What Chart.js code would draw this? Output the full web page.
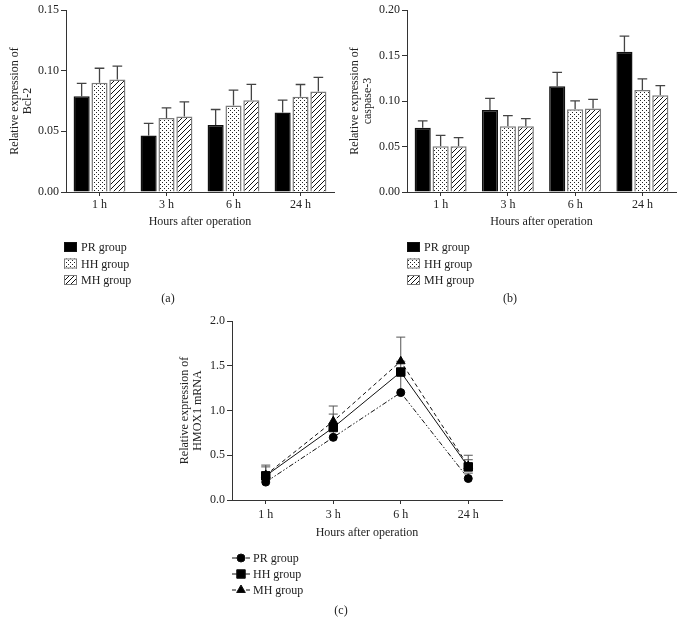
<!DOCTYPE html>
<html>
<head>
<meta charset="utf-8">
<script src="https://cdn.jsdelivr.net/npm/chart.js@4.4.0/dist/chart.umd.min.js"></script>
<style>
  html, body { margin: 0; padding: 0; background: #fff; }
  body { width: 686px; height: 634px; position: relative; overflow: hidden; }
  canvas { position: absolute; }
  #chartA { left: 0; top: 0; }
  #chartB { left: 340px; top: 0; }
  #chartC { left: 170px; top: 300px; }
</style>
</head>
<body>
<canvas id="chartA" width="340" height="312"></canvas>
<canvas id="chartB" width="346" height="312"></canvas>
<canvas id="chartC" width="345" height="334"></canvas>
<script>
// data
const hours = ["1 h", "3 h", "6 h", "24 h"];
const groupNames = ["PR group", "HH group", "MH group"];

// (a) Bcl-2
const bclPR = [0.079, 0.0465, 0.0553, 0.0655];
const bclHH = [0.090, 0.061, 0.0713, 0.0784];
const bclMH = [0.0928, 0.0622, 0.0757, 0.0829];
const bclPRerr = [0.0105, 0.0100, 0.0127, 0.0102];
const bclHHerr = [0.0120, 0.0084, 0.0127, 0.0102];
const bclMHerr = [0.0110, 0.0120, 0.0130, 0.0115];
const bclTicks = [0, 0.05, 0.10, 0.15];

// (b) caspase-3
const casPR = [0.0705, 0.090, 0.1163, 0.1541];
const casHH = [0.0503, 0.0723, 0.091, 0.112];
const casMH = [0.0503, 0.0723, 0.0917, 0.1064];
const casPRerr = [0.0077, 0.0128, 0.0151, 0.0173];
const casHHerr = [0.0120, 0.0117, 0.0092, 0.0124];
const casMHerr = [0.0095, 0.0084, 0.0100, 0.0106];
const casTicks = [0, 0.05, 0.10, 0.15, 0.20];

// (c) HMOX1 mRNA
const hoPR = [0.20, 0.70, 1.20, 0.24];
const hoHH = [0.27, 0.81, 1.43, 0.37];
const hoMH = [0.28, 0.88, 1.55, 0.38];
const hoPRerr = [0.04, 0.09, 0.21, 0.06];
const hoHHerr = [0.10, 0.15, 0.12, 0.08];
const hoMHerr = [0.11, 0.17, 0.27, 0.12];
const hoTicks = [0, 0.5, 1.0, 1.5, 2.0];

Chart.defaults.font.family = "'Liberation Serif', 'Times New Roman', serif";
Chart.defaults.font.size = 12;
Chart.defaults.color = "#222";

const axisColor = "#333";

// fill patterns
function dotPattern() {
  const c = document.createElement("canvas");
  c.width = 4; c.height = 4;
  const g = c.getContext("2d");
  g.fillStyle = "#fff"; g.fillRect(0, 0, 4, 4);
  g.fillStyle = "#222";
  g.fillRect(0, 0, 1, 1);
  g.fillRect(2, 2, 1, 1);
  return g.createPattern(c, "repeat");
}
function hatchPattern() {
  const s = 5;
  const c = document.createElement("canvas");
  c.width = s; c.height = s;
  const g = c.getContext("2d");
  g.fillStyle = "#fff"; g.fillRect(0, 0, s, s);
  g.strokeStyle = "#111"; g.lineWidth = 1;
  g.beginPath();
  g.moveTo(0, s); g.lineTo(s, 0);
  g.moveTo(-1, 1); g.lineTo(1, -1);
  g.moveTo(s - 1, s + 1); g.lineTo(s + 1, s - 1);
  g.stroke();
  return g.createPattern(c, "repeat");
}
const dots = dotPattern();
const hatch = hatchPattern();

// error bars (upward) drawn under the marks
const errorBars = {
  id: "errorBars",
  beforeDatasetsDraw(chart, args, opts) {
    const ctx = chart.ctx;
    const y = chart.scales.y;
    ctx.save();
    ctx.strokeStyle = opts.color || "#444";
    ctx.lineWidth = opts.width || 1.2;
    chart.data.datasets.forEach((ds, i) => {
      if (!ds.errors) return;
      chart.getDatasetMeta(i).data.forEach((el, j) => {
        const top = y.getPixelForValue(ds.data[j] + ds.errors[j]);
        const cap = opts.cap || el.width * 0.6;
        ctx.beginPath();
        ctx.moveTo(el.x, el.y);
        ctx.lineTo(el.x, top);
        ctx.moveTo(el.x - cap / 2, top);
        ctx.lineTo(el.x + cap / 2, top);
        ctx.stroke();
      });
    });
    ctx.restore();
  }
};

// legend stacked under the axis + panel caption
const figLegend = {
  id: "figLegend",
  afterDraw(chart, args, o) {
    const ctx = chart.ctx;
    ctx.save();
    ctx.font = "12px 'Liberation Serif', 'Times New Roman', serif";
    ctx.textBaseline = "middle";
    ctx.fillStyle = "#222";
    chart.data.datasets.forEach((ds, i) => {
      const yy = o.y + i * o.dy;
      if (o.kind === "box") {
        ctx.fillStyle = ds.backgroundColor;
        ctx.fillRect(o.x, yy - 5, 13, 10);
        ctx.strokeStyle = ds.borderColor;
        ctx.lineWidth = 1;
        ctx.strokeRect(o.x + 0.5, yy - 4.5, 12, 9);
        ctx.fillStyle = "#222";
        ctx.textAlign = "left";
        ctx.fillText(ds.label, o.x + 17, yy + 1);
      } else {
        ctx.strokeStyle = "#111";
        ctx.lineWidth = 1;
        ctx.setLineDash(ds.borderDash || []);
        ctx.beginPath();
        ctx.moveTo(o.x - 9, yy);
        ctx.lineTo(o.x + 9, yy);
        ctx.stroke();
        ctx.setLineDash([]);
        ctx.fillStyle = "#000";
        Chart.helpers.drawPoint(ctx, {
          pointStyle: ds.pointStyle, radius: ds.pointRadius, rotation: 0, borderWidth: 1
        }, o.x, yy);
        ctx.fillStyle = "#222";
        ctx.textAlign = "left";
        ctx.fillText(ds.label, o.x + 12, yy + 1);
      }
    });
    ctx.textAlign = "center";
    ctx.fillStyle = "#222";
    ctx.fillText(o.caption, o.cx, o.cy);
    ctx.restore();
  }
};

function scales(tickVals, digits, yTitle, yWidth, xPad) {
  return {
    x: {
      offset: true,
      grid: { offset: false, drawOnChartArea: false, tickLength: 4, color: axisColor },
      border: { color: axisColor, width: 1 },
      ticks: { padding: xPad, color: "#222" },
      title: { display: true, text: "Hours after operation", padding: { top: 0, bottom: 3 }, color: "#222" },
      afterFit: (s) => { s.height = 40; }
    },
    y: {
      min: tickVals[0],
      max: tickVals[tickVals.length - 1],
      afterBuildTicks: (s) => { s.ticks = tickVals.map(v => ({ value: v })); },
      grid: { drawOnChartArea: false, tickLength: 5, color: axisColor },
      border: { color: axisColor, width: 1 },
      ticks: { padding: 2, color: "#222", callback: (v) => Number(v).toFixed(digits) },
      title: { display: true, text: yTitle, padding: { top: 8.4, bottom: 0 }, font: { size: 12, lineHeight: 1.1 }, color: "#222" },
      afterFit: (s) => { s.width = yWidth; }
    }
  };
}

function barSets(pr, hh, mh, prErr, hhErr, mhErr) {
  const common = { borderWidth: 1.5, categoryPercentage: 0.8, barPercentage: 0.9 };
  return [
    Object.assign({ label: groupNames[0], data: pr, errors: prErr, backgroundColor: "#000", borderColor: "#111" }, common),
    Object.assign({ label: groupNames[1], data: hh, errors: hhErr, backgroundColor: dots, borderColor: "#7a7a7a" }, common),
    Object.assign({ label: groupNames[2], data: mh, errors: mhErr, backgroundColor: hatch, borderColor: "#7a7a7a" }, common)
  ];
}

// (a)
new Chart(document.getElementById("chartA"), {
  type: "bar",
  data: { labels: hours, datasets: barSets(bclPR, bclHH, bclMH, bclPRerr, bclHHerr, bclMHerr) },
  options: {
    responsive: false,
    animation: false,
    layout: { padding: { top: 10, right: 6, left: 0, bottom: 80 } },
    scales: scales(bclTicks, 2, ["Relative expression of", "Bcl-2"], 66, 2),
    plugins: {
      legend: { display: false },
      tooltip: { enabled: false },
      errorBars: { color: "#444", width: 1.3 },
      figLegend: { kind: "box", x: 64, y: 247, dy: 16.5, caption: "(a)", cx: 168, cy: 299 }
    }
  },
  plugins: [errorBars, figLegend]
});

// (b)
new Chart(document.getElementById("chartB"), {
  type: "bar",
  data: { labels: hours, datasets: barSets(casPR, casHH, casMH, casPRerr, casHHerr, casMHerr) },
  options: {
    responsive: false,
    animation: false,
    layout: { padding: { top: 10, right: 10, left: 0, bottom: 80 } },
    scales: scales(casTicks, 2, ["Relative expression of", "caspase-3"], 67, 2),
    plugins: {
      legend: { display: false },
      tooltip: { enabled: false },
      errorBars: { color: "#444", width: 1.3 },
      figLegend: { kind: "box", x: 67, y: 247, dy: 16.5, caption: "(b)", cx: 170, cy: 299 }
    }
  },
  plugins: [errorBars, figLegend]
});

// (c)
const scC = scales(hoTicks, 1, ["Relative expression of", "HMOX1 mRNA"], 62, 4);
scC.x.title.padding = { top: 0, bottom: 0 };
new Chart(document.getElementById("chartC"), {
  type: "line",
  data: {
    labels: hours,
    datasets: [
      { label: groupNames[0], data: hoPR, errors: hoPRerr, borderColor: "#111", borderWidth: 1,
        borderDash: [5, 2, 1.5, 2, 1.5, 2], pointStyle: "circle", pointRadius: 4,
        pointBackgroundColor: "#000", pointBorderColor: "#000", fill: false },
      { label: groupNames[1], data: hoHH, errors: hoHHerr, borderColor: "#111", borderWidth: 1,
        pointStyle: "rect", pointRadius: 6,
        pointBackgroundColor: "#000", pointBorderColor: "#000", fill: false },
      { label: groupNames[2], data: hoMH, errors: hoMHerr, borderColor: "#111", borderWidth: 1,
        borderDash: [4, 3], pointStyle: "triangle", pointRadius: 5,
        pointBackgroundColor: "#000", pointBorderColor: "#000", fill: false }
    ]
  },
  options: {
    responsive: false,
    animation: false,
    layout: { padding: { top: 21, right: 13, left: 0, bottom: 94 } },
    scales: scC,
    plugins: {
      legend: { display: false },
      tooltip: { enabled: false },
      errorBars: { color: "#555", width: 1, cap: 9 },
      figLegend: { kind: "line", x: 71, y: 258, dy: 16, caption: "(c)", cx: 171, cy: 311 }
    }
  },
  plugins: [errorBars, figLegend]
});
</script>
</body>
</html>
